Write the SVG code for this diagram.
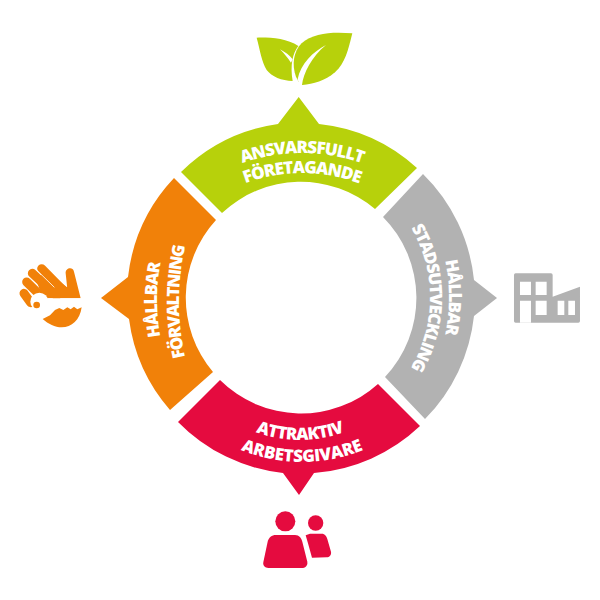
<svg xmlns="http://www.w3.org/2000/svg" width="600" height="600" viewBox="0 0 600 600">
<style>
.t{font-family:"Open Sans","Liberation Sans",sans-serif;font-weight:800;font-size:17px;letter-spacing:-1px;fill:#fff;text-anchor:middle}
.gr{fill:#b7d10b}.or{fill:#f18109}.gy{fill:#b2b2b2}.re{fill:#e50b3f}
</style>
<defs>
<path id="a1" d="M122,333A180,180 0 0 1 482,333"/>
<path id="a2" d="M140,335A162,162 0 0 1 464,335"/>
<path id="b1" d="M357,500A200,200 0 0 1 357,100"/>
<path id="b2" d="M429,552A250,250 0 0 1 429,52"/>
<path id="c1" d="M269,117A180,180 0 0 1 269,477"/>
<path id="c2" d="M292,159.500A138,138 0 0 1 292,435.500"/>
<path id="d1" d="M171,311A129,129 0 0 0 429,311"/>
<path id="d2" d="M142,302A160,160 0 0 0 462,302"/>
</defs>
<g id="green">
<path class="gr" d="M181,172A173,173 0 0 1 278,124L298.7,97L319,124A173,173 0 0 1 417,168L375,209A115,115 0 0 0 222,213Z"/>
<text class="t"><textPath href="#a1" startOffset="50%">ANSVARSFULLT</textPath></text>
<text class="t"><textPath href="#a2" startOffset="50%">FÖRETAGANDE</textPath></text>
<g transform="translate(170,20) scale(.3333)">
<path class="gr" d="M547,40C535,90 525,130 495,157C465,183 430,192 397,195L386,185L378,170C365,135 370,95 395,70C430,38 490,35 547,40Z"/>
<path fill="#fff" d="M468,75C430,95 392,130 383,178L389,195H396C400,160 425,110 468,75Z"/>
<path class="gr" d="M260,53C300,52 350,55 385,78C368,100 360,135 368,183C335,182 305,170 290,150C275,125 270,90 260,53Z"/>
<path fill="#fff" d="M330,88C345,96 360,106 368,118L363,128C352,112 342,100 330,88Z"/>
</g>
</g>
<g id="orange">
<path class="or" d="M170,410A173,173 0 0 1 129,319L101,298L128,277A173,173 0 0 1 174,178L216,220A115,115 0 0 0 213,372Z"/>
<text class="t"><textPath href="#b1" startOffset="50%">HÅLLBAR</textPath></text>
<text class="t" style="letter-spacing:-1.3px"><textPath href="#b2" startOffset="50%">FÖRVALTNING</textPath></text>
<g transform="translate(0,170) scale(.3333)">
<g fill="none" stroke="#f18109" stroke-width="27" stroke-linecap="round">
<path d="M125,296L190,362M97,310L170,378M80,336L130,385M72,370L92,398"/>
</g>
<path class="or" d="M205,355L242,385H130L110,335L135,300ZM197,310C195,295 218,288 222,305L242,385H205Z"/>
<path d="M110,300L163,352" stroke="#fff" stroke-width="2.500" fill="none"/>
<path fill="#fff" d="M140,385H245V422H140Z"/>
<circle cx="118" cy="395" r="27" fill="#fff"/>
<circle cx="110" cy="405" r="10" class="or"/>
<path class="or" d="M128,447L150,436L165,420L178,414L190,420L202,412L212,418L222,410L232,418L245,412C240,450 215,472 185,472C165,472 145,462 128,447Z"/>
</g>
</g>
<g id="grey">
<path class="gy" d="M423,174A173,173 0 0 1 474,280L497,298L474,316A173,173 0 0 1 425,419L385,377A115,115 0 0 0 383,217Z"/>
<text class="t"><textPath href="#c1" startOffset="50%">HÅLLBAR</textPath></text>
<text class="t" style="letter-spacing:-1.2px"><textPath href="#c2" startOffset="50%">STADSUTVECKLING</textPath></text>
<g transform="translate(370,170) scale(.3333)">
<path class="gy" d="M437,310H543Q548,310 548,315V380L630,350V453Q630,458 625,458H437Q432,458 432,453V315Q432,310 437,310Z"/>
<path fill="#fff" d="M450,335h33v40h-33zM497,335h33v40h-33zM450,392h33v66h-33zM497,392h33v43h-33zM563,392h20v43h-20zM595,392h20v43h-20z"/>
</g>
</g>
<g id="red">
<path class="re" d="M420,426A173,173 0 0 1 314,473L299,495L283,473A173,173 0 0 1 178,422L220,380A115,115 0 0 0 378,384Z"/>
<text class="t" style="letter-spacing:-.6px"><textPath href="#d1" startOffset="50%">ATTRAKTIV</textPath></text>
<text class="t" style="letter-spacing:-.2px"><textPath href="#d2" startOffset="50%">ARBETSGIVARE</textPath></text>
<g transform="translate(170,375) scale(.3333)">
<circle class="re" cx="346" cy="439" r="30"/>
<circle class="re" cx="437" cy="444" r="23"/>
<path class="re" d="M318,480H375C388,480 394,490 397,500L412,560C414,572 405,579 395,579H295C285,579 278,572 280,562L293,500C296,488 305,480 318,480Z"/>
<path class="re" d="M407,481L420,476H455C465,476 470,484 472,492L483,530C485,540 478,547 470,547L426,548L414,505Z"/>
</g>
</g>
</svg>
